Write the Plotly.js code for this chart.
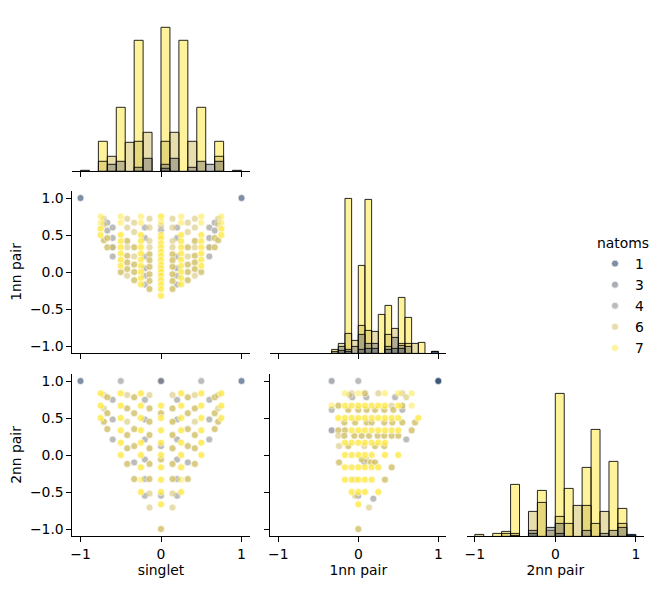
<!DOCTYPE html>
<html><head><meta charset="utf-8">
<script src="https://cdn.plot.ly/plotly-3.0.1.min.js"></script>
<style>html,body{margin:0;padding:0;background:#fff}</style>
</head><body><div id="chart" style="width:661px;height:589px"></div>
<script>
const natomsLevels = [1, 3, 4, 6, 7];
const natomsColors = ['#00224e', '#575d6d', '#7c7b78', '#cfbb5c', '#fee838'];
const tickValsX = [-1, 0, 1];
const tickValsY = [-1, -0.5, 0, 0.5, 1];

// ---- diagonal histograms (counts per bin, per natoms) ----
const singletBinStart = -1, singletBinSize = 1 / 9;
const singletHist1 = [1,0,0,0,0,0,0,0,0,0,0,0,0,0,0,0,0,1];
const singletHist3 = [0,0,0,0,0,0,0,0,0,3,0,0,0,0,0,0,0,0];
const singletHist4 = [0,0,0,7,10,0,4,13,0,7,13,0,4,10,7,10,0,0];
const singletHist6 = [0,0,10,15,0,29,30,39,0,30,39,0,30,0,0,15,0,0];
const singletHist7 = [0,0,30,0,64,0,131,0,0,144,0,131,0,64,0,30,0,0];

const nn1BinStart = -1, nn1BinSize = 1 / 12;
const nn1Hist1 = [0,0,0,0,0,0,0,0,0,0,0,0,0,0,0,0,0,0,0,0,0,0,0,2];
const nn1Hist3 = [0,0,0,0,0,0,0,0,2,3,2,0,4,5,5,0,4,5,5,0,0,0,0,2];
const nn1Hist4 = [0,0,0,0,0,0,0,0,0,7,4,7,19,10,10,0,7,16,8,7,0,0,0,0];
const nn1Hist6 = [0,0,0,0,0,0,0,0,0,10,20,13,28,23,22,0,19,25,10,10,10,0,0,0];
const nn1Hist7 = [0,0,0,0,0,0,0,0,4,0,155,0,88,154,0,39,48,0,56,36,0,11,0,0];

const nn2BinStart = -1, nn2BinSize = 1 / 9;
const nn2Hist1 = [0,0,0,0,0,0,0,0,0,0,0,0,0,0,0,0,0,2];
const nn2Hist3 = [0,0,0,0,0,0,3,0,0,3,0,0,0,0,0,0,0,1];
const nn2Hist4 = [0,0,0,0,1,0,6,0,9,13,0,0,6,0,3,6,9,0];
const nn2Hist6 = [2,0,0,3,3,0,25,34,6,20,13,31,31,13,25,0,13,0];
const nn2Hist7 = [0,0,3,5,52,0,0,46,0,143,48,0,69,107,0,75,28,0];

// ---- scatter: singlet vs 1nn pair (count = overlapping structures) ----
const aSinglet = [-1,1,
 -0.75,-0.75,-0.75,-0.75,
 -0.71,-0.71,-0.71,
 -0.667,-0.667,-0.667,-0.667,
 -0.6,-0.6,-0.6,-0.6,-0.6,
 -0.5,-0.5,-0.5,-0.5,-0.5,-0.5,-0.5,-0.5,-0.5,
 -0.42,-0.42,-0.42,-0.42,-0.42,-0.42,-0.42,-0.42,
 -0.333,-0.333,-0.333,-0.333,-0.333,-0.333,-0.333,
 -0.25,-0.25,-0.25,-0.25,-0.25,-0.25,-0.25,-0.25,-0.25,-0.25,-0.25,
 -0.2,-0.2,-0.2,-0.2,-0.2,-0.2,
 -0.143,-0.143,-0.143,-0.143,-0.143,-0.143,-0.143,-0.143,-0.143,-0.143,
 0,0,0,0,0,0,0,0,0,0,0,0,0,0,0,0,0,0,0,
 0.143,0.143,0.143,0.143,0.143,0.143,0.143,0.143,0.143,0.143,
 0.2,0.2,0.2,0.2,0.2,0.2,
 0.25,0.25,0.25,0.25,0.25,0.25,0.25,0.25,0.25,0.25,0.25,
 0.333,0.333,0.333,0.333,0.333,0.333,0.333,
 0.42,0.42,0.42,0.42,0.42,0.42,0.42,0.42,
 0.5,0.5,0.5,0.5,0.5,0.5,0.5,0.5,0.5,
 0.6,0.6,0.6,0.6,0.6,
 0.667,0.667,0.667,0.667,
 0.71,0.71,0.71,
 0.75,0.75,0.75,0.75];
const a1nn = [1,1,
 0.75,0.667,0.583,0.5,
 0.72,0.64,0.43,
 0.667,0.56,0.46,0.333,
 0.6,0.46,0.333,0.333,0.21,
 0.75,0.667,0.5,0.417,0.333,0.25,0.167,0.083,0,
 0.72,0.6,0.42,0.333,0.22,0.13,0.04,-0.05,
 0.667,0.54,0.333,0.21,0.1,0,-0.11,
 0.75,0.667,0.5,0.417,0.333,0.25,0.167,0.083,0,-0.083,-0.167,
 0.6,0.46,0.21,0.05,-0.05,-0.17,
 0.72,0.6,0.42,0.333,0.24,0.16,0.07,-0.03,-0.12,-0.23,
 0.75,0.68,0.626,0.568,0.5,0.455,0.387,0.333,0.275,0.22,0.16,0.1,0.05,0,-0.05,-0.11,-0.17,-0.23,-0.32,
 0.72,0.6,0.42,0.333,0.24,0.16,0.07,-0.03,-0.12,-0.23,
 0.6,0.46,0.21,0.05,-0.05,-0.17,
 0.75,0.667,0.5,0.417,0.333,0.25,0.167,0.083,0,-0.083,-0.167,
 0.667,0.54,0.333,0.21,0.1,0,-0.11,
 0.72,0.6,0.42,0.333,0.22,0.13,0.04,-0.05,
 0.75,0.667,0.5,0.417,0.333,0.25,0.167,0.083,0,
 0.6,0.46,0.333,0.333,0.21,
 0.667,0.56,0.46,0.333,
 0.72,0.64,0.43,
 0.75,0.667,0.583,0.5];
const aNatoms = [1,1,
 7,7,7,7,
 6,6,6,
 4,4,6,6,
 4,4,4,6,4,
 7,7,7,7,7,7,7,7,6,
 6,6,6,6,6,6,6,6,
 6,6,6,6,6,6,6,
 7,7,7,7,7,7,7,7,7,7,7,
 4,4,4,4,4,4,
 6,6,6,6,6,6,6,6,6,6,
 7,7,6,4,7,7,7,7,7,7,7,7,7,7,7,7,7,7,7,
 6,6,6,6,6,6,6,6,6,6,
 4,4,4,4,4,4,
 7,7,7,7,7,7,7,7,7,7,7,
 6,6,6,6,6,6,6,
 6,6,6,6,6,6,6,6,
 7,7,7,7,7,7,7,7,6,
 4,4,4,6,4,
 4,4,6,6,
 6,6,6,
 7,7,7,7];
const aCount = [1,1,
 1,1,2,2,
 1,1,2,
 1,1,2,2,
 1,1,1,1,1,
 1,1,2,2,2,2,2,2,2,
 1,1,2,1,2,2,2,1,
 1,1,2,1,2,2,2,
 1,1,2,2,2,2,2,2,2,2,2,
 1,1,1,1,1,1,
 1,1,1,1,2,2,2,2,2,2,
 2,1,1,1,2,2,2,2,2,2,2,2,2,2,2,2,2,2,2,
 1,1,1,1,2,2,2,2,2,2,
 1,1,1,1,1,1,
 1,1,2,2,2,2,2,2,2,2,2,
 1,1,2,1,2,2,2,
 1,1,2,1,2,2,2,1,
 1,1,2,2,2,2,2,2,2,
 1,1,1,1,1,
 1,1,2,2,
 1,1,2,
 1,1,2,2];

// ---- scatter: singlet vs 2nn pair ----
const bSinglet = [-1,1,-0.5,0.5,0,
 -0.75,-0.75,-0.75,
 -0.71,-0.71,-0.71,
 -0.667,-0.667,-0.667,
 -0.6,-0.6,-0.6,
 -0.5,-0.5,-0.5,-0.5,-0.5,-0.5,
 -0.42,-0.42,-0.42,-0.42,-0.42,-0.42,
 -0.333,-0.333,-0.333,-0.333,-0.333,-0.333,
 -0.25,-0.25,-0.25,-0.25,-0.25,-0.25,-0.25,-0.25,-0.25,
 -0.2,-0.2,-0.2,-0.2,-0.2,-0.2,
 -0.143,-0.143,-0.143,-0.143,-0.143,-0.143,-0.143,-0.143,-0.143,
 0,0,0,0,0,0,0,0,0,0,0,0,0,0,
 0.143,0.143,0.143,0.143,0.143,0.143,0.143,0.143,0.143,
 0.2,0.2,0.2,0.2,0.2,0.2,
 0.25,0.25,0.25,0.25,0.25,0.25,0.25,0.25,0.25,
 0.333,0.333,0.333,0.333,0.333,0.333,
 0.42,0.42,0.42,0.42,0.42,0.42,
 0.5,0.5,0.5,0.5,0.5,0.5,
 0.6,0.6,0.6,
 0.667,0.667,0.667,
 0.71,0.71,0.71,
 0.75,0.75,0.75];
const b2nn = [1,1,1,1,1,
 0.833,0.667,0.5,
 0.81,0.63,0.45,
 0.78,0.565,0.35,
 0.745,0.48,0.21,
 0.833,0.667,0.5,0.333,0.167,0,
 0.81,0.63,0.45,0.27,0.09,-0.12,
 0.78,0.565,0.35,0.12,-0.1,-0.325,
 0.833,0.667,0.5,0.333,0.167,0,-0.167,-0.333,-0.5,
 0.745,0.48,0.21,-0.06,-0.325,-0.55,
 0.81,0.63,0.45,0.27,0.09,-0.12,-0.325,-0.52,-0.71,
 0.667,0.565,0.5,0.333,0.167,0.12,0,-0.06,-0.167,-0.333,-0.5,-0.55,-0.667,-1,
 0.81,0.63,0.45,0.27,0.09,-0.12,-0.325,-0.52,-0.71,
 0.745,0.48,0.21,-0.06,-0.325,-0.55,
 0.833,0.667,0.5,0.333,0.167,0,-0.167,-0.333,-0.5,
 0.78,0.565,0.35,0.12,-0.1,-0.325,
 0.81,0.63,0.45,0.27,0.09,-0.12,
 0.833,0.667,0.5,0.333,0.167,0,
 0.745,0.48,0.21,
 0.78,0.565,0.35,
 0.81,0.63,0.45,
 0.833,0.667,0.5];
const bNatoms = [1,1,4,4,3,
 7,7,7,
 6,6,6,
 6,6,6,
 4,4,4,
 7,7,7,7,7,7,
 6,6,6,6,6,6,
 6,6,6,6,4,6,
 7,7,7,7,7,7,7,7,7,
 4,4,4,4,4,4,
 6,6,6,6,6,6,6,6,6,
 7,6,7,7,7,4,7,6,7,7,7,4,7,6,
 6,6,6,6,6,6,6,6,6,
 4,4,4,4,4,4,
 7,7,7,7,7,7,7,7,7,
 6,6,6,6,4,6,
 6,6,6,6,6,6,
 7,7,7,7,7,7,
 4,4,4,
 6,6,6,
 6,6,6,
 7,7,7];
const bCount = [1,1,1,1,2,
 2,2,2,
 1,1,2,
 2,2,2,
 1,1,1,
 2,2,2,2,2,2,
 1,2,1,2,2,2,
 2,2,2,2,1,2,
 2,2,2,2,2,2,2,1,2,
 1,1,1,1,1,1,
 1,2,2,2,2,2,2,1,1,
 2,2,2,2,2,1,2,2,2,2,2,1,2,2,
 1,2,2,2,2,2,2,1,1,
 1,1,1,1,1,1,
 2,2,2,2,2,2,2,1,2,
 2,2,2,2,1,2,
 1,2,1,2,2,2,
 2,2,2,2,2,2,
 1,1,1,
 2,2,2,
 1,1,2,
 2,2,2];

// ---- scatter: 1nn pair vs 2nn pair ----
const c1nn = [1,-0.333,0,
 -0.167,-0.083,0,0.083,0.25,0.333,0.5,0.55,0.667,
 -0.11,-0.075,0.1,0.46,0.6,
 -0.333,-0.25,-0.167,-0.083,0,0.083,0.167,0.25,0.333,0.417,0.5,0.55,0.667,
 -0.333,-0.125,0,0.104,0.209,0.325,0.438,0.55,
 -0.25,-0.167,-0.083,0,0.083,0.167,0.25,0.333,0.417,0.5,0.75,
 -0.175,-0.04,0.104,0.167,0.325,0.425,0.55,0.709,
 -0.333,-0.25,-0.167,-0.083,0,0.083,0.167,0.25,0.333,0.417,0.5,0.667,
 -0.25,-0.175,-0.05,0.042,0.134,0.242,0.325,0.417,0.5,
 0.6,
 -0.167,-0.083,0,0.083,0.167,0.25,0.333,
 -0.241,-0.125,0.075,0.209,0.325,
 -0.167,-0.083,0,0.083,0.167,0.333,0.5,
 0.042,0.104,
 -0.241,0.075,0.158,0.209,
 -0.167,-0.083,0,0.083,0.167,0.25,0.417,
 -0.167,-0.083,-0.041,0,0.083,0.167,0.333,
 -0.083,0,0.083,0.25,
 -0.04,0,
 0.188,
 0,
 0.134,
 0];
const c2nn = [1,1,1,
 0.833,0.833,0.833,0.833,0.833,0.833,0.833,0.833,0.833,
 0.81,0.78,0.78,0.78,0.78,
 0.667,0.667,0.667,0.667,0.667,0.667,0.667,0.667,0.667,0.667,0.667,0.667,0.667,
 0.61,0.61,0.61,0.61,0.61,0.61,0.61,0.61,
 0.5,0.5,0.5,0.5,0.5,0.5,0.5,0.5,0.5,0.5,0.5,
 0.44,0.44,0.44,0.44,0.44,0.44,0.44,0.44,
 0.333,0.333,0.333,0.333,0.333,0.333,0.333,0.333,0.333,0.333,0.333,0.333,
 0.26,0.26,0.26,0.26,0.26,0.26,0.26,0.26,0.26,
 0.21,
 0.167,0.167,0.167,0.167,0.167,0.167,0.167,
 0.12,0.12,0.12,0.12,0.12,
 0,0,0,0,0,0,0,
 -0.06,-0.06,
 -0.1,-0.1,-0.1,-0.1,
 -0.167,-0.167,-0.167,-0.167,-0.167,-0.167,-0.167,
 -0.333,-0.333,-0.333,-0.333,-0.333,-0.333,-0.333,
 -0.5,-0.5,-0.5,-0.5,
 -0.55,-0.55,
 -0.59,
 -0.667,
 -0.71,
 -1];
const cNatoms = [1,3,4,
 7,6,7,6,6,7,7,6,7,
 6,4,4,4,6,
 7,6,7,7,7,7,7,7,7,6,7,6,7,
 4,6,6,6,6,6,6,4,
 7,7,7,7,7,7,7,7,7,7,7,
 6,6,6,6,6,6,6,6,
 3,6,6,7,7,7,7,7,7,7,7,6,
 6,6,6,6,6,6,6,6,6,
 4,
 7,7,7,7,7,7,7,
 6,6,6,6,6,
 7,7,7,7,7,7,7,
 6,6,
 6,4,6,6,
 7,7,7,7,7,7,6,
 7,7,6,7,7,7,6,
 7,7,7,7,
 6,4,
 4,
 7,
 6,
 6];
const cCount = [2,1,1,
 1,1,1,2,1,1,1,1,1,
 1,1,1,1,1,
 1,2,2,2,2,2,2,2,2,1,2,2,1,
 1,2,2,2,2,2,2,1,
 2,2,2,2,2,2,2,2,2,2,2,
 2,2,2,2,2,2,2,2,
 1,2,2,2,2,2,2,2,2,2,2,2,
 1,2,2,2,2,2,2,2,2,
 1,
 2,2,2,2,2,2,2,
 1,2,1,2,2,
 2,2,2,2,2,2,2,
 2,1,
 2,1,2,2,
 2,2,2,2,2,2,2,
 2,2,1,2,2,2,2,
 2,2,2,2,
 1,1,
 1,
 2,
 1,
 2];

function rgba(hex, a) {
  const r = parseInt(hex.slice(1,3),16), g = parseInt(hex.slice(3,5),16), b = parseInt(hex.slice(5,7),16);
  return `rgba(${r},${g},${b},${a})`;
}

function bars(countsByLevel, start, size, xa, ya) {
  const out = [];
  [4,3,2,1,0].forEach(li => {
    const xs = [], ys = [];
    countsByLevel[li].forEach((v, i) => { if (v > 0) { xs.push(start + (i + 0.5) * size); ys.push(v); } });
    out.push({type:'bar', x:xs, y:ys, width:size, xaxis:xa, yaxis:ya, showlegend:false, hoverinfo:'skip',
      marker:{color:rgba(natomsColors[li],0.5), line:{color:'rgba(0,0,0,0.85)', width:1}}});
  });
  return out;
}

function scatters(xs, ys, ns, ks, xa, ya, legend) {
  return natomsLevels.map((lev, li) => {
    const px = [], py = [];
    xs.forEach((x, i) => { if (ns[i] === lev) { for (let r = 0; r < ks[i]; r++) { px.push(x); py.push(ys[i]); } } });
    return {type:'scatter', mode:'markers', x:px, y:py, xaxis:xa, yaxis:ya,
      name:String(lev), legendgroup:String(lev), showlegend:legend, hoverinfo:'skip',
      marker:{color:natomsColors[li], size:7, opacity:0.5, line:{color:'#ffffff', width:0.7}}};
  });
}

const traces = [].concat(
  bars([singletHist1,singletHist3,singletHist4,singletHist6,singletHist7], singletBinStart, singletBinSize, 'x', 'y'),
  bars([nn1Hist1,nn1Hist3,nn1Hist4,nn1Hist6,nn1Hist7], nn1BinStart, nn1BinSize, 'x3', 'y3'),
  bars([nn2Hist1,nn2Hist3,nn2Hist4,nn2Hist6,nn2Hist7], nn2BinStart, nn2BinSize, 'x6', 'y6'),
  scatters(aSinglet, a1nn, aNatoms, aCount, 'x2', 'y2', false),
  scatters(bSinglet, b2nn, bNatoms, bCount, 'x4', 'y4', false),
  scatters(c1nn, c2nn, cNatoms, cCount, 'x5', 'y5', true)
);

const W = 661, H = 589;
const col = [[72.45/W, 249.55/W], [270.3/W, 446.3/W], [466.75/W, 643.85/W]];
const row = [[(H-171.3)/H, (H-8.5)/H], [(H-353.4)/H, (H-190.6)/H], [(H-536.4)/H, (H-373.6)/H]];
const font = {family:'DejaVu Sans', size:13.9, color:'#000'};

function xax(dom, anchor, labels, title) {
  return {domain:dom, anchor:anchor, range:[-1.1,1.1], tickvals:tickValsX, showticklabels:labels,
    showline:true, linecolor:'#000', linewidth:1, ticks:'outside', ticklen:5, tickwidth:1, tickcolor:'#000',
    showgrid:false, zeroline:false, tickfont:font, title:{text:title||'', font:font, standoff:4}};
}
function yax(dom, anchor, labels, title) {
  return {domain:dom, anchor:anchor, range:[-1.1,1.1], tickvals:tickValsY, tickformat:'.1f', showticklabels:labels,
    showline:true, linecolor:'#000', linewidth:1, ticks:'outside', ticklen:5, tickwidth:1, tickcolor:'#000',
    showgrid:false, zeroline:false, tickfont:font, title:{text:title||'', font:font, standoff:5}};
}
function yhist(dom, anchor) {
  return {domain:dom, anchor:anchor, range:[0,162.8], visible:false, fixedrange:true};
}

const layout = {
  width:W, height:H, margin:{l:0,r:0,t:0,b:0}, paper_bgcolor:'#fff', plot_bgcolor:'#fff',
  font:font, barmode:'overlay', bargap:0,
  xaxis: xax(col[0], 'y', false),
  yaxis: yhist(row[0], 'x'),
  xaxis2: xax(col[0], 'y2', false),
  yaxis2: yax(row[1], 'x2', true, '1nn pair'),
  xaxis3: xax(col[1], 'y3', false),
  yaxis3: yhist(row[1], 'x3'),
  xaxis4: xax(col[0], 'y4', true, 'singlet'),
  yaxis4: yax(row[2], 'x4', true, '2nn pair'),
  xaxis5: xax(col[1], 'y5', true, '1nn pair'),
  yaxis5: yax(row[2], 'x5', false),
  xaxis6: xax(col[2], 'y6', true, '2nn pair'),
  yaxis6: yhist(row[2], 'x6'),
  legend: {x:595/W, xanchor:'left', y:1-230/H, yanchor:'top', bgcolor:'rgba(0,0,0,0)',
    title:{text:'natoms', font:font}, font:font, tracegroupgap:2, itemsizing:'trace', traceorder:'normal'},
  showlegend:true
};

Plotly.newPlot('chart', traces, layout, {displayModeBar:false, staticPlot:true});
</script>
</body></html>
